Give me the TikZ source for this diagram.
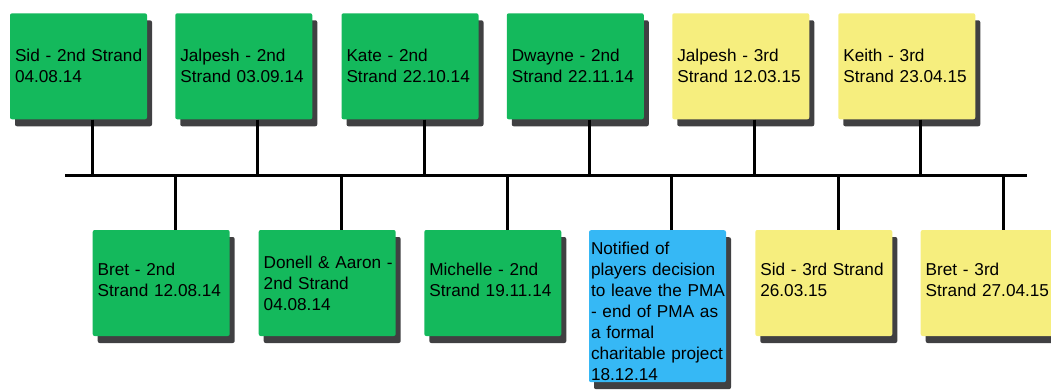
\documentclass[tikz,border=0pt]{standalone}
\usepackage{fontspec}
\setmainfont{Liberation Sans}
\usetikzlibrary{shadows}

\definecolor{strandgreen}{RGB}{20,185,92}
\definecolor{strandyellow}{RGB}{246,238,126}
\definecolor{pmablue}{RGB}{54,184,245}
\definecolor{shadowgray}{RGB}{64,64,66}

% one unbreakable line of a label
\newcommand{\lbline}[1]{\mbox{#1}}

\begin{document}
\begin{tikzpicture}[x=1pt,y=-1pt,
  event/.style={rectangle, rounded corners=2pt,
    minimum width=137pt, minimum height=106pt,
    inner xsep=5pt, inner ysep=0pt, text width=127pt, align=left,
    font=\fontsize{17.2}{21}\selectfont,
    drop shadow={shadow xshift=5pt, shadow yshift=-7pt,
                 fill=shadowgray, opacity=1}},
  second/.style={event, fill=strandgreen},
  third/.style={event, fill=strandyellow},
  raised/.style={text depth=27pt},
  bar/.style={draw=black, line width=3pt}]

\useasboundingbox (0,0) rectangle (1051,389);
\clip (0,0) rectangle (1051,389);

% events above the time line
\node[second] (t1) at (78.5,66.3)  {\lbline{Sid - 2nd Strand}\\\lbline{04.08.14}};
\node[second] (t2) at (243.8,66.3) {\lbline{Jalpesh - 2nd}\\\lbline{Strand 03.09.14}};
\node[second] (t3) at (410,66.3)   {\lbline{Kate - 2nd}\\\lbline{Strand 22.10.14}};
\node[second] (t4) at (575.3,66.3) {\lbline{Dwayne - 2nd}\\\lbline{Strand 22.11.14}};
\node[third]  (t5) at (740.8,66.3) {\lbline{Jalpesh - 3rd}\\\lbline{Strand 12.03.15}};
\node[third]  (t6) at (906.8,66.3) {\lbline{Keith - 3rd}\\\lbline{Strand 23.04.15}};

% events below the time line
\node[second, raised] (b1) at (161.2,283) {\lbline{Bret - 2nd}\\\lbline{Strand 12.08.14}};
\node[second] (b2) at (327.2,283) {\lbline{Donell \& Aaron -}\\\lbline{2nd Strand}\\\lbline{04.08.14}};
\node[second, raised] (b3) at (492.8,283) {\lbline{Michelle - 2nd}\\\lbline{Strand 19.11.14}};
\node[event, fill=pmablue, anchor=north, inner xsep=2pt, text width=133pt,
      text height=24pt, text depth=128pt] (b4) at (657.5,230)
  {\lbline{Notified of}\\\lbline{players decision}\\\lbline{to leave the PMA}\\\lbline{- end of PMA as}\\\lbline{a formal}\\\lbline{charitable project}\\\lbline{18.12.14}};
\node[third, raised]  (b5) at (823.8,283) {\lbline{Sid - 3rd Strand}\\\lbline{26.03.15}};
\node[third, raised]  (b6) at (989.2,283) {\lbline{Bret - 3rd}\\\lbline{Strand 27.04.15}};

% the time line
\coordinate (L) at (65,175);
\coordinate (R) at (1027,175);
\draw[bar] (L) -- (R);

% ticks joining each event to the line
\foreach \n in {t1,t2,t3,t4,t5,t6}
  \draw[bar] ([xshift=14pt]\n.south) -- ([xshift=14pt]\n.south |- L);
\foreach \n in {b1,b2,b3,b4,b5,b6}
  \draw[bar] ([xshift=14.3pt]\n.north) -- ([xshift=14.3pt]\n.north |- L);

\end{tikzpicture}
\end{document}
